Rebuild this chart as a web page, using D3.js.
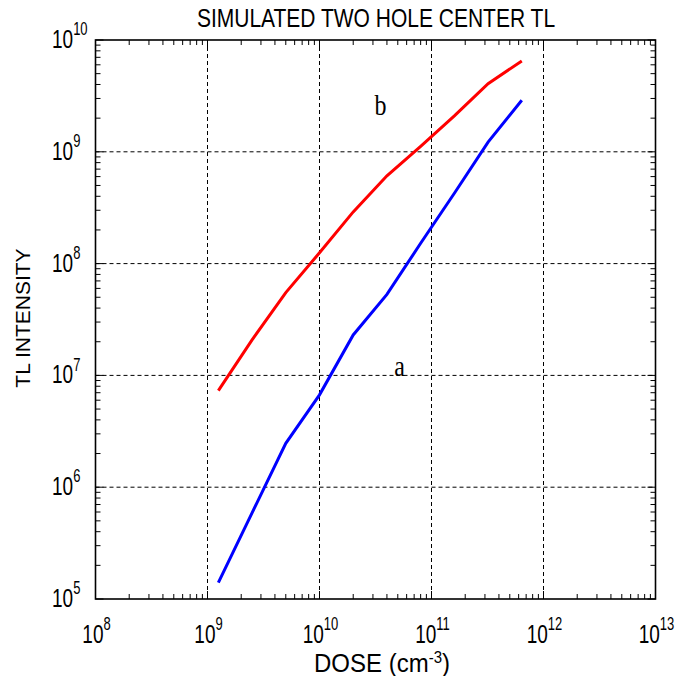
<!DOCTYPE html>
<html><head><meta charset="utf-8">
<script src="https://cdn.jsdelivr.net/npm/d3@7"></script>
<style>body{margin:0;background:#fff}svg{display:block}</style>
</head><body>
<svg id="c" width="690" height="676"></svg>
<script>
const dose = [1.25e9, 2.5e9, 5e9, 1e10, 2e10, 4e10, 8e10, 1.6e11, 3.2e11, 6.4e11];
const curveA = [1.4e5, 5.9e5, 2.47e6, 6.7e6, 2.3e7, 5.3e7, 1.52e8, 4.26e8, 1.22e9, 2.89e9];
const curveB = [7.3e6, 2.08e7, 5.5e7, 1.25e8, 2.9e8, 6.1e8, 1.12e9, 2.1e9, 4.07e9, 6.5e9];
const xTickExp = [8, 9, 10, 11, 12, 13];
const yTickExp = [5, 6, 7, 8, 9, 10];
const title = "SIMULATED TWO HOLE CENTER TL";

const svg = d3.select("#c");
const L = 95.5, R = 655.5, T = 40, B = 599;
const x = d3.scaleLog().domain([1e8, 1e13]).range([L, R]);
const y = d3.scaleLog().domain([1e5, 1e10]).range([B, T]);
const font = "'Liberation Sans', Arial, sans-serif";
const serif = "'Liberation Serif', 'Times New Roman', serif";

// grid
const g = svg.append("g");
xTickExp.slice(1, -1).forEach(e => {
  g.append("line").attr("x1", x(10 ** e)).attr("x2", x(10 ** e)).attr("y1", T).attr("y2", B)
    .attr("stroke", "#000").attr("stroke-width", 1).attr("stroke-dasharray", "4,3");
});
yTickExp.slice(1, -1).forEach(e => {
  g.append("line").attr("y1", y(10 ** e)).attr("y2", y(10 ** e)).attr("x1", L).attr("x2", R)
    .attr("stroke", "#000").attr("stroke-width", 1).attr("stroke-dasharray", "4,3");
});

// minor ticks (inside, all four sides)
const minorX = [], minorY = [];
for (let e = 8; e < 13; e++) for (let m = 2; m <= 9; m++) minorX.push(m * 10 ** e);
for (let e = 5; e < 10; e++) for (let m = 2; m <= 9; m++) minorY.push(m * 10 ** e);
const tk = svg.append("g").attr("stroke", "#000").attr("stroke-width", 1);
minorX.forEach(v => {
  const px = x(v);
  tk.append("line").attr("x1", px).attr("x2", px).attr("y1", B).attr("y2", B - 5);
  tk.append("line").attr("x1", px).attr("x2", px).attr("y1", T).attr("y2", T + 5);
});
minorY.forEach(v => {
  const py = y(v);
  tk.append("line").attr("y1", py).attr("y2", py).attr("x1", L).attr("x2", L + 5);
  tk.append("line").attr("y1", py).attr("y2", py).attr("x1", R).attr("x2", R - 5);
});
xTickExp.forEach(e => {
  const px = x(10 ** e);
  tk.append("line").attr("x1", px).attr("x2", px).attr("y1", B).attr("y2", B - 8);
  tk.append("line").attr("x1", px).attr("x2", px).attr("y1", T).attr("y2", T + 8);
});
yTickExp.forEach(e => {
  const py = y(10 ** e);
  tk.append("line").attr("y1", py).attr("y2", py).attr("x1", L).attr("x2", L + 8);
  tk.append("line").attr("y1", py).attr("y2", py).attr("x1", R).attr("x2", R - 8);
});

// frame
svg.append("rect").attr("x", L).attr("y", T).attr("width", R - L).attr("height", B - T)
  .attr("fill", "none").attr("stroke", "#000").attr("stroke-width", 1.6);

// curves
const line = d3.line().x(d => x(d[0])).y(d => y(d[1]));
svg.append("path").datum(dose.map((d, i) => [d, curveB[i]])).attr("d", line)
  .attr("fill", "none").attr("stroke", "#ff0000").attr("stroke-width", 3);
svg.append("path").datum(dose.map((d, i) => [d, curveA[i]])).attr("d", line)
  .attr("fill", "none").attr("stroke", "#0000ff").attr("stroke-width", 3);

// helper: tall (vertically stretched) text
function tall(px, py, sy, anchor) {
  return svg.append("g").attr("transform", `translate(${px},${py}) scale(1,${sy})`)
    .append("text").attr("text-anchor", anchor).attr("font-family", font);
}
// x tick labels
xTickExp.forEach(e => {
  const t = tall(x(10 ** e) + 1, 643, 1.35, "middle").attr("font-size", 19);
  t.append("tspan").text("10");
  t.append("tspan").attr("font-size", 13).attr("dy", -9.5).text(e);
});
// y tick labels
yTickExp.forEach(e => {
  const t = tall(52, y(10 ** e) + 8, 1.35, "start").attr("font-size", 19);
  t.append("tspan").text("10");
  t.append("tspan").attr("font-size", 13).attr("dy", -9.5).text(e);
});

// title & axis labels
tall(376, 27, 1.25, "middle").attr("font-size", 21).text(title);
const xl = tall(382, 672, 1.1, "middle").attr("font-size", 24);
xl.append("tspan").text("DOSE (cm");
xl.append("tspan").attr("font-size", 15).attr("dy", -8).text("-3");
xl.append("tspan").attr("dy", 8).text(")");
svg.append("text").attr("transform", "translate(30,318) rotate(-90)").attr("text-anchor", "middle")
  .attr("font-family", font).attr("font-size", 21).text("TL INTENSITY");

// curve labels
svg.append("g").attr("transform", `translate(${x(3.5e10)},${y(2.13e9)}) scale(1,1.2)`)
  .append("text").attr("text-anchor", "middle").attr("font-family", serif).attr("font-size", 24).text("b");
svg.append("g").attr("transform", `translate(${x(5.2e10)},${y(9.9e6)}) scale(1,1.2)`)
  .append("text").attr("text-anchor", "middle").attr("font-family", serif).attr("font-size", 24).text("a");
</script>
</body></html>
